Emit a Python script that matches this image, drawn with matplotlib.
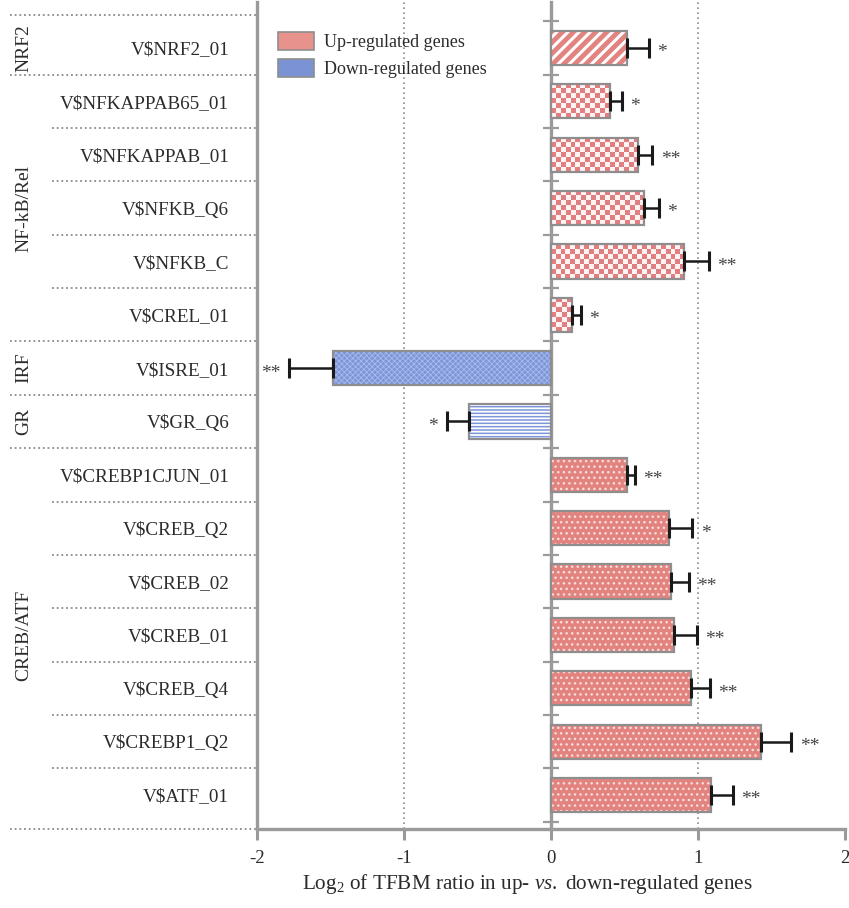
import numpy as np
import matplotlib
matplotlib.use("Agg")
import matplotlib.pyplot as plt
from matplotlib.patches import Patch
import matplotlib.transforms as mtrans

# ---------------- data ----------------
labels = ["V$NRF2_01", "V$NFKAPPAB65_01", "V$NFKAPPAB_01", "V$NFKB_Q6", "V$NFKB_C",
          "V$CREL_01", "V$ISRE_01", "V$GR_Q6", "V$CREBP1CJUN_01", "V$CREB_Q2",
          "V$CREB_02", "V$CREB_01", "V$CREB_Q4", "V$CREBP1_Q2", "V$ATF_01"]
values = [0.52, 0.40, 0.595, 0.635, 0.905, 0.145, -1.48, -0.56, 0.515, 0.805,
          0.815, 0.84, 0.955, 1.43, 1.09]
errors = [0.146, 0.08, 0.095, 0.10, 0.17, 0.057, 0.30, 0.15, 0.056, 0.157,
          0.124, 0.153, 0.124, 0.205, 0.146]
stars = ["*", "*", "**", "*", "**", "*", "**", "*", "**", "*", "**", "**", "**", "**", "**"]
patterns = ["stripes", "checker", "checker", "checker", "checker", "checker", "fine",
            "hlines", "dots", "dots", "dots", "dots", "dots", "dots", "dots"]
groups = ["NRF2", "NF-kB/Rel", "IRF", "GR", "CREB/ATF"]
group_start = [0, 1, 6, 7, 8]
group_end = [0, 5, 6, 7, 14]
xticks = [-2, -1, 0, 1, 2]
legend_labels = ["Up-regulated genes", "Down-regulated genes"]

# ---------------- style ----------------
plt.rcParams["font.family"] = ["Liberation Serif", "DejaVu Serif"]
plt.rcParams["mathtext.fontset"] = "custom"
plt.rcParams["mathtext.rm"] = "Liberation Serif"
plt.rcParams["mathtext.it"] = "Liberation Serif:italic"

RED = "#E3837F"
RED_LEG = "#E8928E"
BLUE = "#7D96DA"
BLUE_LEG = "#7B93D5"
EDGE = "#8E8E8E"
AXC = "#9A9A9A"
TXT = "#2b2b2b"

W, H = 849, 908
fig = plt.figure(figsize=(W / 100, H / 100), dpi=100)
ax_left, ax_right, ax_top, ax_bot = 257, 845, 2, 829
ax = fig.add_axes([ax_left / W, 1 - ax_bot / H, (ax_right - ax_left) / W, (ax_bot - ax_top) / H])

n = len(labels)
row_px = 53.36
ytop = -(48 - ax_top) / row_px
ybot = (n - 1) + (ax_bot - 795) / row_px
XL = (-2, 2)
ax.set_xlim(*XL)
ax.set_ylim(ybot, ytop)

bh = 0.64
for i in range(n):
    v = values[i]
    p = patterns[i]
    if p == "stripes":
        with plt.rc_context({"hatch.linewidth": 2.2}):
            ax.barh(i, v, height=bh, color=RED, edgecolor="white", hatch="///", linewidth=0, zorder=2)
    elif p == "dots":
        with plt.rc_context({"hatch.linewidth": 1.0}):
            ax.barh(i, v, height=bh, color=RED, edgecolor="#F9DEDC", hatch="...", linewidth=0, zorder=2)
    elif p == "fine":
        with plt.rc_context({"hatch.linewidth": 0.6}):
            ax.barh(i, v, height=bh, color=BLUE, edgecolor="#A9BBEA", hatch="xxxxxx", linewidth=0, zorder=2)
    elif p == "hlines":
        with plt.rc_context({"hatch.linewidth": 1.3}):
            ax.barh(i, v, height=bh, color=BLUE, edgecolor="white", hatch="-----", linewidth=0, zorder=2)
    elif p == "checker":
        ax.barh(i, v, height=bh, color="white", linewidth=0, zorder=2)
        x0, x1 = min(0, v), max(0, v)
        y0, y1 = i - bh / 2, i + bh / 2
        (px0, py0), (px1, py1) = ax.transData.transform([(x0, y0), (x1, y1)])
        cell = 4.8
        nx = max(1, int(round(abs(px1 - px0) / cell)))
        ny = max(1, int(round(abs(py1 - py0) / cell)))
        chk = (np.add.outer(np.arange(ny), np.arange(nx)) % 2).astype(bool)
        red_rgb = np.array(matplotlib.colors.to_rgb("#E07E80"))
        img = np.where(chk[..., None], red_rgb, np.array([1.0, 0.96, 0.96]))
        ax.imshow(img, extent=(x0, x1, y1, y0), aspect="auto", interpolation="nearest", zorder=2.1)
    # outline
    ax.barh(i, v, height=bh, fill=False, edgecolor=EDGE, linewidth=1.6, zorder=3)
    # error bar (one-sided)
    if v >= 0:
        xerr = [[0], [errors[i]]]
        tip = v + errors[i]
        off, ha = 6, "left"
    else:
        xerr = [[errors[i]], [0]]
        tip = v - errors[i]
        off, ha = -6, "right"
    ax.errorbar(v, i, xerr=xerr, fmt="none", ecolor="#1a1a1a", elinewidth=1.8,
                capsize=7.5, capthick=2.2, zorder=4)
    ax.annotate(stars[i], (tip, i), xytext=(off, -3.5), textcoords="offset points",
                ha=ha, va="center", fontsize=14, color="#444444", zorder=5)

ax.set_xlim(*XL)
ax.set_ylim(ybot, ytop)

# grid lines at +-1
for gx in [-1, 1]:
    ax.axvline(gx, color="#8a8a8a", linestyle=(0, (1, 2)), linewidth=1.2, zorder=1)

# spines
for s in ["top", "right"]:
    ax.spines[s].set_visible(False)
for s in ["left", "bottom"]:
    ax.spines[s].set_color(AXC)
    ax.spines[s].set_linewidth(2.4)

ax.set_xticks(xticks)
ax.set_xticklabels([str(t) for t in xticks])
ax.tick_params(axis="x", direction="out", length=8, width=2.2, color=AXC,
               labelsize=13.5, labelcolor=TXT, pad=7)
ax.set_yticks(range(n))
ax.set_yticklabels(labels)
ax.tick_params(axis="y", length=0, labelsize=13.8, labelcolor=TXT, pad=20)

# zero line with ticks at row boundaries
sec = ax.secondary_yaxis(0.5)
sec.spines["left"].set_color(AXC)
sec.spines["right"].set_color(AXC)
sec.spines["left"].set_linewidth(2.4)
sec.spines["right"].set_linewidth(2.4)
sec.set_yticks(np.arange(-0.5, n, 1.0))
sec.tick_params(direction="inout", length=12, width=1.6, color=AXC,
                labelleft=False, labelright=False)

# x label
ax.set_xlabel("Log$_2$ of TFBM ratio in up- $\\mathit{vs.}$ down-regulated genes",
              fontsize=15.2, color=TXT)
ax.xaxis.set_label_coords((527 - ax_left) / (ax_right - ax_left), -0.052)

# group labels and separators in the left margin
bt = mtrans.blended_transform_factory(ax.transAxes, ax.transData)
ax_w = ax_right - ax_left
full_x = (10 - ax_left) / ax_w
short_x = (52 - ax_left) / ax_w
grp_x = (24 - ax_left) / ax_w
sep_kw = dict(color="#8a8a8a", linestyle=(0, (1, 1.6)), linewidth=1.3, transform=bt, clip_on=False)
for k, g in enumerate(groups):
    s, e = group_start[k], group_end[k]
    ax.text(grp_x, (s + e) / 2, g, rotation=90, ha="center", va="center",
            fontsize=14, color=TXT, transform=bt)
    top_b = ytop + 0.25 if k == 0 else s - 0.5
    ax.plot([full_x, 0], [top_b, top_b], **sep_kw)
    for b in range(s, e):
        ax.plot([short_x, 0], [b + 0.5, b + 0.5], **sep_kw)
ax.plot([full_x, 0], [ybot, ybot], **sep_kw)

# legend
handles = [Patch(facecolor=RED_LEG, edgecolor=EDGE, linewidth=1.2),
           Patch(facecolor=BLUE_LEG, edgecolor=EDGE, linewidth=1.2)]
leg = ax.legend(handles, legend_labels, loc="upper left",
                bbox_to_anchor=((278 - ax_left) / ax_w, 1 - (32 - ax_top) / (ax_bot - ax_top)),
                frameon=False, fontsize=13, handlelength=2.0, handleheight=1.15,
                handletextpad=0.55, labelspacing=0.45, borderaxespad=0, borderpad=0)
for t in leg.get_texts():
    t.set_color(TXT)

fig.savefig("out.png", dpi=100)
